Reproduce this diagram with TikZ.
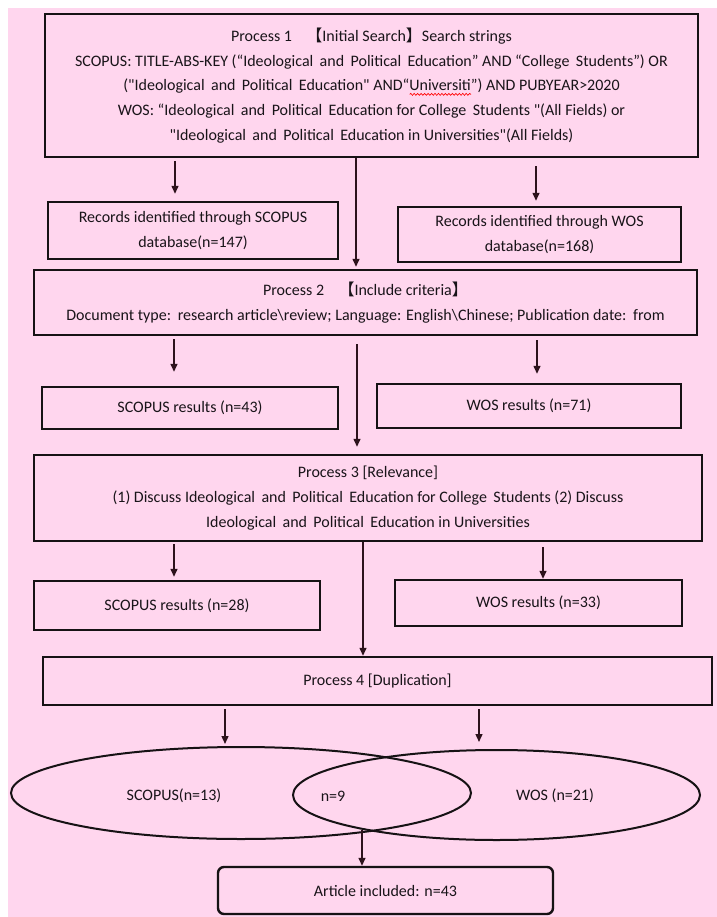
\documentclass[tikz,border=0pt]{standalone}
\usepackage{fontspec}
\setmainfont{Carlito}
\newfontfamily\qf{Carlito}[Ligatures=TeXOff]
\newfontfamily\cjkf{Noto Sans CJK SC}
\usetikzlibrary{arrows.meta,shapes.geometric,decorations.pathmorphing}
\newsavebox\wavebox
\newcommand\redwave[1]{\sbox\wavebox{#1}\rlap{\tikz[x=1pt,y=1pt,baseline=0pt]{\path (0,0); \draw[red,line width=0.5pt,decorate,decoration={snake,amplitude=0.7pt,segment length=2.6pt}] (0,-2.6) -- (\the\wd\wavebox,-2.6);}}\usebox\wavebox}
\newcommand\xs{\hspace{0.4em}}
\newcommand\dq{{\qf"}}
\newcommand\fs{\fontsize{12}{18.6}\selectfont}
\definecolor{pinkbg}{RGB}{255,214,238}
\definecolor{txt}{RGB}{25,20,25}
\definecolor{arrc}{RGB}{45,18,28}
\definecolor{boxc}{RGB}{22,18,20}
\begin{document}
\begin{tikzpicture}[x=0.75pt,y=-0.75pt,
  wh/.style 2 args={minimum width=#1*0.75pt, minimum height=#2*0.75pt},
  box/.style={draw=boxc, line width=1.8pt, align=center, inner sep=0pt, font=\fs, text=txt},
  oval/.style={draw=boxc, line width=1.5pt, ellipse, inner sep=0pt},
  lab/.style={font=\fs, text=txt, inner sep=0pt},
  arr/.style={draw=arrc, line width=1.15pt, -{Triangle[length=6pt,width=5.2pt]}}]
\useasboundingbox (0,0) rectangle (717,917);
\fill[white] (0,0) rectangle (717,917);
\fill[pinkbg] (8,8) rectangle (717,917);

% boxes
\node[box, wh={653}{143}] (p1) at (371.5,85.5) {Process 1\hspace{0.9em}{\cjkf 【}Initial Search{\cjkf 】}Search strings\\
SCOPUS: TITLE-ABS-KEY (“Ideological\xs and\xs Political\xs Education” AND “College\xs Students”) OR\\
(\dq Ideological\xs and\xs Political\xs Education\dq{} AND“\redwave{Universiti}”) AND PUBYEAR>2020\\
WOS: “Ideological\xs and\xs Political\xs Education for College\xs Students \dq(All Fields) or\\
\dq Ideological\xs and\xs Political\xs Education in Universities\dq(All Fields)};

\node[box, wh={290}{57}] (rs) at (193,230.5) {Records identified through SCOPUS\\ database(n=147)};
\node[box, wh={283}{55}] (rw) at (539.5,234.5) {Records identified through WOS\\ database(n=168)};

\node[box, wh={663}{65}] (p2) at (365.5,302.5) {Process 2\hspace{0.9em}{\cjkf 【}Include criteria{\cjkf 】}\\
Document type:\hspace{0.12em} research article\textbackslash review; Language: English\textbackslash Chinese; Publication date:\hspace{0.12em} from};

\node[box, wh={296}{42}] (s43) at (190,408) {SCOPUS results (n=43)};
\node[box, wh={304}{44}] (w71) at (529,406) {WOS results (n=71)};

\node[box, wh={668}{86}] (p3) at (368,498) {Process 3 [Relevance]\\
(1) Discuss Ideological\xs and\xs Political\xs Education for College\xs Students (2) Discuss\\
Ideological\xs and\xs Political\xs Education in Universities};

\node[box, wh={286}{49}] (s28) at (177,605.5) {SCOPUS results (n=28)};
\node[box, wh={287}{46}] (w33) at (538.5,603) {WOS results (n=33)};

\node[box, wh={669}{48}] (p4) at (377.5,681) {Process 4 [Duplication]};

\node[oval, wh={460}{92}] (eL) at (241,793) {};
\node[oval, wh={407}{90}] (eR) at (496.5,795) {};
\node[lab] (tL) at (174,796) {SCOPUS(n=13)};
\node[lab] (tM) at (333,796) {n=9};
\node[lab] (tR) at (555,796) {WOS (n=21)};

\node[box, rounded corners=4.5pt, wh={335}{47}] (art) at (385.5,890.5) {Article included: n=43};

% column coordinates
\coordinate (c1) at (175,0);
\coordinate (c2) at (356,0);
\coordinate (c3) at (536,0);
\coordinate (d1) at (174,0);
\coordinate (d2) at (357,0);
\coordinate (d3) at (537,0);
\coordinate (e1) at (174,0);
\coordinate (e2) at (363,0);
\coordinate (e3) at (543,0);
\coordinate (f1) at (225,0);
\coordinate (f2) at (479,0);
\coordinate (cross) at (362,830);

% connectors
\draw[arr, shorten <=2.25pt, shorten >=5.25pt] (p1.south -| c1) -- (rs.north -| c1);
\draw[arr, shorten >=1.5pt] (p1.south -| c2) -- (p2.north -| c2);
\draw[arr, shorten <=6pt, shorten >=3.75pt] (p1.south -| c3) -- (rw.north -| c3);

\draw[arr, shorten <=2.25pt, shorten >=10.5pt] (p2.south -| d1) -- (s43.north -| d1);
\draw[arr, shorten <=6pt, shorten >=5.25pt] (p2.south -| d2) -- (p3.north -| d2);
\draw[arr, shorten <=3pt, shorten >=6.75pt] (p2.south -| d3) -- (w71.north -| d3);

\draw[arr, shorten <=1.5pt, shorten >=2.25pt] (p3.south -| e1) -- (s28.north -| e1);
\draw[arr] (p3.south -| e2) -- (p4.north -| e2);
\draw[arr, shorten <=3.75pt] (p3.south -| e3) -- (w33.north -| e3);

\draw[arr, shorten <=2.25pt, shorten >=1.5pt] (p4.south -| f1) -- (eL.north -| f1);
\draw[arr, shorten <=2.25pt, shorten >=5.25pt] (p4.south -| f2) -- (eR.north -| f2);

\draw[arr] (cross) -- (art.north -| cross);
\end{tikzpicture}
\end{document}
